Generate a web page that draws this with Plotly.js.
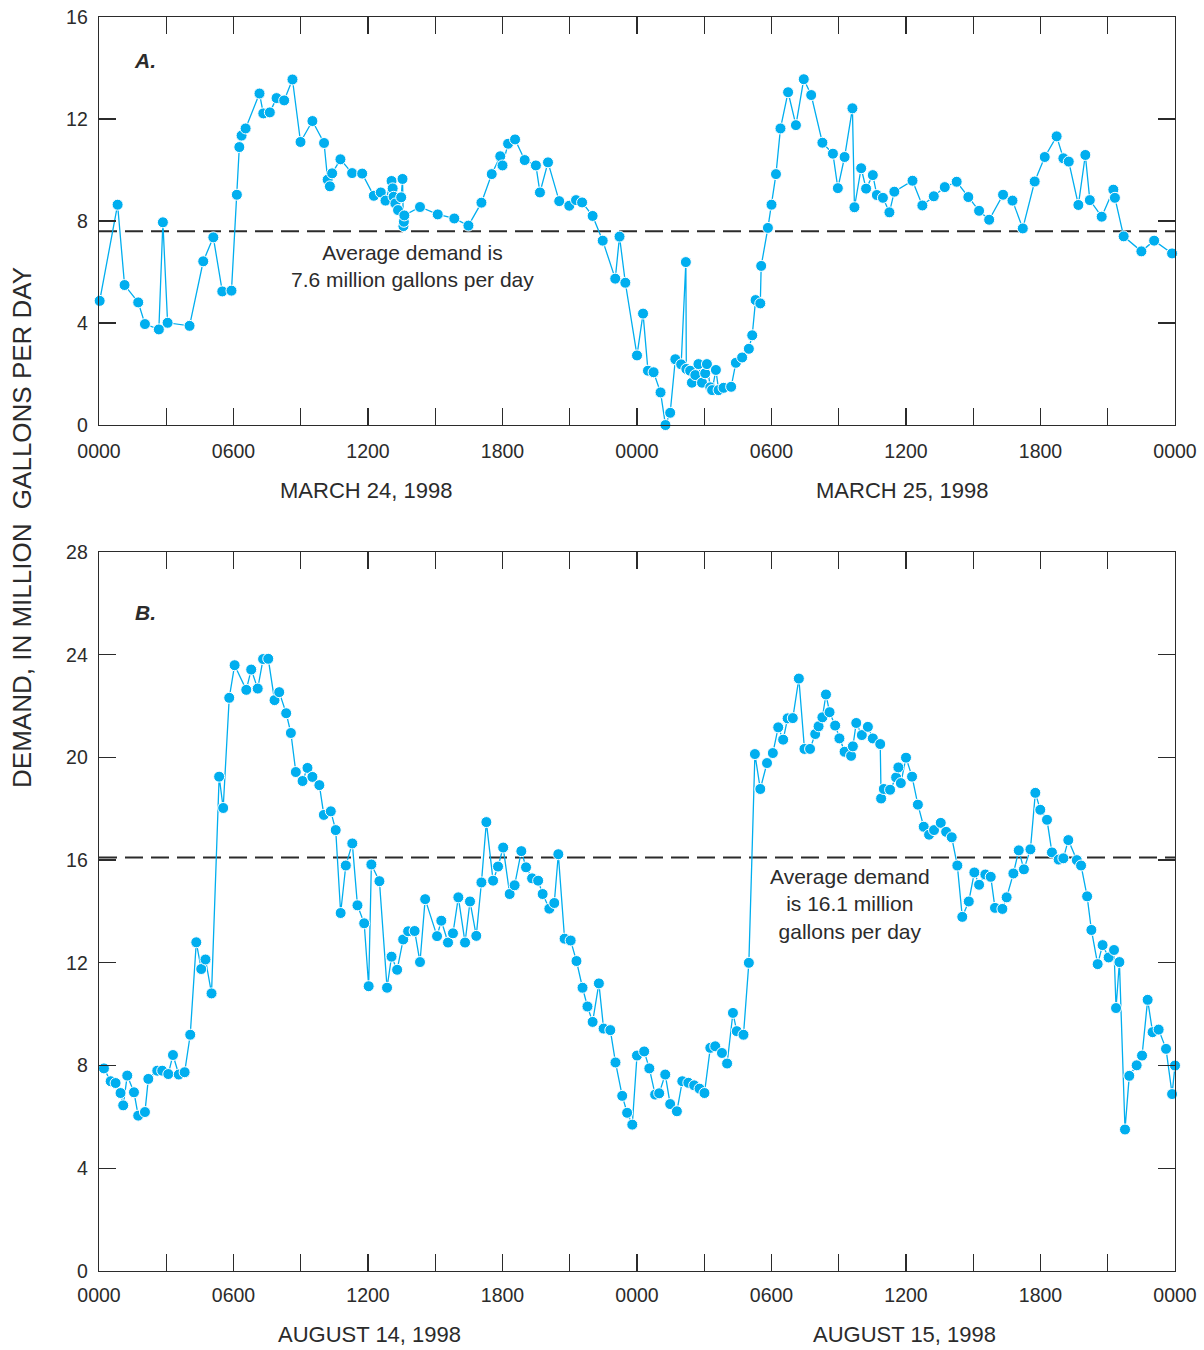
<!DOCTYPE html>
<html>
<head>
<meta charset="utf-8">
<script src="https://cdn.plot.ly/plotly-3.0.1.min.js"></script>
<style>
  html, body { margin: 0; padding: 0; background: #ffffff; }
  #chart { width: 1204px; height: 1350px; }
</style>
</head>
<body>
<div id="chart"></div>
<script>
// ---------- DATA ----------
// Panel A: March 24-25, 1998 (hours since 0000 March 24, million gallons per day)
const hoursA = [0.03,0.83,1.14,1.75,2.05,2.67,2.85,3.06,4.04,4.65,5.10,5.50,5.91,6.15,6.26,6.36,6.54,7.16,7.33,7.62,7.92,8.26,8.63,8.99,9.52,10.04,10.20,10.30,10.40,10.77,11.29,11.74,12.26,12.57,12.78,13.05,13.10,13.14,13.22,13.34,13.48,13.54,13.58,13.60,13.62,14.32,15.11,15.85,16.48,17.06,17.52,17.90,18.00,18.25,18.56,18.99,19.49,19.67,20.03,20.53,20.98,21.28,21.55,22.02,22.47,23.03,23.22,23.48,24.00,24.27,24.49,24.74,25.05,25.27,25.48,25.71,25.97,26.18,26.20,26.37,26.45,26.60,26.74,26.90,27.04,27.12,27.27,27.35,27.52,27.64,27.86,28.20,28.41,28.69,28.99,29.14,29.29,29.50,29.54,29.84,30.00,30.20,30.40,30.74,31.09,31.44,31.77,32.27,32.74,32.96,33.26,33.61,33.70,34.00,34.22,34.52,34.70,34.97,35.26,35.48,36.29,36.73,37.24,37.73,38.26,38.78,39.26,39.71,40.33,40.75,41.21,41.74,42.19,42.72,43.02,43.26,43.69,44.00,44.20,44.73,45.25,45.32,45.71,46.50,47.07,47.87];
const demandA = [4.87,8.64,5.49,4.81,3.96,3.75,7.95,4.01,3.89,6.42,7.36,5.24,5.27,9.03,10.90,11.35,11.63,13.00,12.22,12.26,12.82,12.73,13.55,11.10,11.92,11.06,9.62,9.36,9.87,10.42,9.88,9.86,8.99,9.12,8.80,9.57,9.28,8.95,8.69,8.43,8.93,9.65,7.80,7.97,8.22,8.55,8.26,8.10,7.82,8.72,9.84,10.54,10.18,11.03,11.20,10.39,10.18,9.12,10.30,8.78,8.60,8.82,8.73,8.20,7.23,5.74,7.39,5.58,2.73,4.37,2.13,2.07,1.28,0.00,0.48,2.58,2.38,6.39,2.20,2.13,1.66,1.96,2.39,1.66,2.03,2.39,1.48,1.37,2.16,1.37,1.46,1.50,2.44,2.65,2.99,3.52,4.90,4.77,6.24,7.73,8.64,9.84,11.63,13.05,11.76,13.56,12.94,11.07,10.64,9.29,10.51,12.42,8.54,10.07,9.27,9.80,9.02,8.91,8.34,9.15,9.58,8.61,8.97,9.33,9.54,8.94,8.40,8.05,9.03,8.80,7.71,9.55,10.51,11.32,10.46,10.33,8.63,10.59,8.82,8.17,9.23,8.91,7.40,6.81,7.23,6.73];
const averageA = 7.6;

// Panel B: August 14-15, 1998
const hoursB = [0.22,0.52,0.74,0.96,1.08,1.26,1.56,1.75,2.05,2.20,2.60,2.82,3.09,3.30,3.56,3.82,4.07,4.34,4.56,4.75,5.02,5.36,5.54,5.81,6.05,6.57,6.79,7.08,7.32,7.55,7.83,8.04,8.35,8.56,8.78,9.08,9.30,9.52,9.83,10.03,10.34,10.56,10.78,11.01,11.30,11.53,11.83,12.03,12.15,12.51,12.85,13.05,13.30,13.57,13.79,14.08,14.32,14.55,15.08,15.27,15.57,15.79,16.03,16.33,16.55,16.83,17.06,17.28,17.58,17.80,18.03,18.32,18.54,18.84,19.05,19.32,19.59,19.79,20.09,20.31,20.49,20.77,21.04,21.30,21.57,21.79,22.02,22.30,22.51,22.81,23.04,23.34,23.56,23.79,24.00,24.32,24.55,24.81,24.99,25.26,25.48,25.78,26.02,26.29,26.55,26.79,27.01,27.27,27.49,27.79,28.02,28.28,28.45,28.75,28.99,29.26,29.50,29.80,30.06,30.30,30.52,30.72,30.95,31.22,31.47,31.72,31.95,32.10,32.27,32.43,32.59,32.84,33.03,33.26,33.55,33.63,33.78,34.03,34.30,34.52,34.85,34.89,35.01,35.29,35.56,35.66,35.77,36.00,36.27,36.53,36.79,37.03,37.25,37.55,37.79,38.04,38.29,38.51,38.80,39.05,39.26,39.54,39.78,39.97,40.30,40.49,40.79,41.03,41.26,41.55,41.77,41.99,42.29,42.51,42.81,43.02,43.24,43.62,43.81,44.08,44.27,44.55,44.77,45.04,45.28,45.37,45.52,45.77,45.96,46.29,46.53,46.78,47.00,47.27,47.60,47.87,48.00];
const demandB = [7.89,7.39,7.32,6.93,6.45,7.61,6.96,6.05,6.19,7.48,7.80,7.80,7.67,8.41,7.65,7.74,9.20,12.80,11.76,12.13,10.81,19.25,18.03,22.32,23.59,22.63,23.42,22.68,23.83,23.84,22.23,22.54,21.72,20.95,19.43,19.08,19.59,19.24,18.92,17.76,17.90,17.17,13.94,15.79,16.65,14.24,13.54,11.09,15.83,15.18,11.03,12.24,11.73,12.91,13.23,13.24,12.03,14.48,13.04,13.64,12.79,13.15,14.55,12.79,14.39,13.05,15.13,17.48,15.20,15.75,16.49,14.68,15.02,16.35,15.72,15.29,15.20,14.68,14.11,14.33,16.23,12.94,12.87,12.07,11.03,10.30,9.70,11.20,9.44,9.38,8.12,6.82,6.16,5.70,8.39,8.55,7.89,6.87,6.92,7.65,6.50,6.22,7.39,7.33,7.23,7.10,6.93,8.69,8.75,8.49,8.08,10.05,9.34,9.20,12.00,20.13,18.77,19.78,20.17,21.17,20.69,21.52,21.53,23.07,20.33,20.33,20.91,21.21,21.56,22.45,21.76,21.24,20.74,20.22,20.06,20.43,21.34,20.87,21.19,20.74,20.52,18.40,18.77,18.74,19.22,19.61,19.00,19.99,19.25,18.16,17.30,16.99,17.17,17.45,17.10,16.89,15.79,13.79,14.39,15.52,15.04,15.44,15.35,14.14,14.10,14.55,15.48,16.38,15.64,16.42,18.62,17.96,17.57,16.30,16.02,16.07,16.78,16.00,15.79,14.59,13.28,11.95,12.69,12.21,12.50,10.24,12.03,5.51,7.60,8.01,8.39,10.56,9.30,9.40,8.65,6.89,8.00];
const averageB = 16.1;

// Axis ticks
const hourTicks = [0,3,6,9,12,15,18,21,24,27,30,33,36,39,42,45,48];
const hourTickText = ["0000","","0600","","1200","","1800","","0000","","0600","","1200","","1800","","0000"];
const yTicksA = [0,4,8,12,16];
const yTicksB = [0,4,8,12,16,20,24,28];

const dateLabelsA = ["MARCH 24, 1998", "MARCH 25, 1998"];
const dateLabelsB = ["AUGUST 14, 1998", "AUGUST 15, 1998"];
const panelLabels = ["A.", "B."];
const avgTextA = "Average demand is<br>7.6 million gallons per day";
const avgTextB = "Average demand<br>is 16.1 million<br>gallons per day";
const yTitle = "DEMAND, IN MILLION\u00A0\u00A0GALLONS PER DAY";

// ---------- STYLE ----------
const FONT = "Liberation Sans, Arial, Helvetica, sans-serif";
const BLUE = "#00AEEF";
const INK = "#2b2b2b";

function series(x, y, xa, ya) {
  return {
    x: x, y: y, xaxis: xa, yaxis: ya,
    type: "scatter", mode: "lines+markers",
    line: { color: BLUE, width: 1.3 },
    marker: { color: BLUE, size: 11, line: { color: "#ffffff", width: 1 } },
    cliponaxis: false,
    hoverinfo: "skip",
    showlegend: false
  };
}

function xAxis(anchor, standoff) {
  return {
    anchor: anchor, domain: [0, 1], range: [0, 48],
    tickmode: "array", tickvals: hourTicks, ticktext: hourTickText,
    ticks: "inside", ticklen: 17, tickwidth: 1.3, tickcolor: INK,
    showline: true, linecolor: INK, linewidth: 1.3, mirror: "ticks",
    showgrid: false, zeroline: false,
    tickfont: { family: FONT, size: 19.5, color: INK },
    ticklabelstandoff: standoff
  };
}
function yAxis(anchor, domain, range, ticks) {
  return {
    anchor: anchor, domain: domain, range: range,
    tickmode: "array", tickvals: ticks,
    ticks: "inside", ticklen: 17, tickwidth: 1.3, tickcolor: INK,
    showline: true, linecolor: INK, linewidth: 1.3, mirror: "ticks",
    showgrid: false, zeroline: false,
    tickfont: { family: FONT, size: 19.5, color: INK },
    ticklabelstandoff: 6
  };
}

const data = [
  series(hoursA, demandA, "x", "y"),
  series(hoursB, demandB, "x2", "y2")
];

const textFont = { family: FONT, size: 21, color: INK };
const dateFont = { family: FONT, size: 22, color: INK };

function label(x, y, text, font, extra) {
  return Object.assign({ xref: "paper", yref: "paper", x: x, y: y, text: text, showarrow: false,
    font: font, xanchor: "center", yanchor: "middle" }, extra || {});
}

const layout = {
  width: 1204, height: 1350,
  paper_bgcolor: "#ffffff", plot_bgcolor: "#ffffff",
  margin: { l: 99, r: 29, t: 17, b: 79 },
  showlegend: false,
  xaxis: xAxis("y", 8),
  yaxis: yAxis("x", [0.6746, 1], [0, 16], yTicksA),
  xaxis2: xAxis("y2", 6),
  yaxis2: yAxis("x2", [0, 0.5734], [0, 28], yTicksB),
  shapes: [
    { type: "line", xref: "x", yref: "y", x0: 0, x1: 48, y0: averageA, y1: averageA,
      line: { color: INK, width: 2, dash: "18px,8px" }, layer: "below" },
    { type: "line", xref: "x2", yref: "y2", x0: 0, x1: 48, y0: averageB, y1: averageB,
      line: { color: INK, width: 2, dash: "18px,8px" }, layer: "below" }
  ],
  annotations: [
    label(-0.0716, 0.5933, yTitle, { family: FONT, size: 26, color: INK }, { textangle: -90 }),
    label(0.248, 0.6228, dateLabelsA[0], dateFont),
    label(0.746, 0.6228, dateLabelsA[1], dateFont),
    label(0.251, -0.0510, dateLabelsB[0], dateFont),
    label(0.749, -0.0510, dateLabelsB[1], dateFont),
    label(0.0428, 0.9650, "<b><i>" + panelLabels[0] + "</i></b>", { family: FONT, size: 21, color: INK }),
    label(0.0428, 0.5255, "<b><i>" + panelLabels[1] + "</i></b>", { family: FONT, size: 21, color: INK }),
    { xref: "x", yref: "y", x: 13.98, y: 6.24, text: avgTextA, showarrow: false, font: textFont, align: "center",
      xanchor: "center", yanchor: "middle" },
    { xref: "x2", yref: "y2", x: 33.5, y: 14.28, text: avgTextB, showarrow: false, font: textFont, align: "center",
      xanchor: "center", yanchor: "middle" }
  ]
};

Plotly.newPlot("chart", data, layout, { staticPlot: true, displayModeBar: false });
</script>
</body>
</html>
